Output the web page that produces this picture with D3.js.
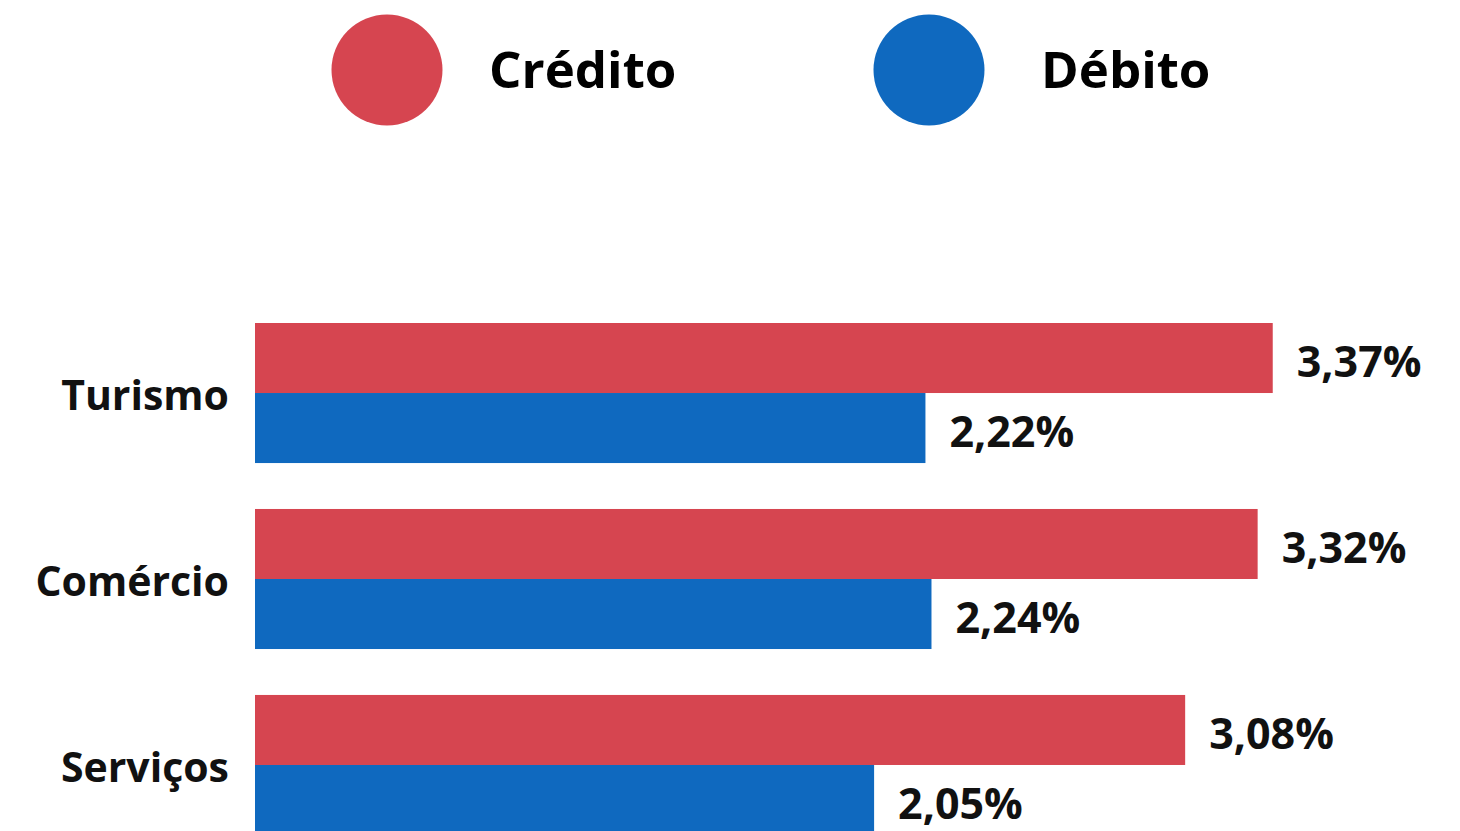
<!DOCTYPE html>
<html><head><meta charset="utf-8">
<script src="https://cdn.jsdelivr.net/npm/d3@7"></script>
<style>body{margin:0;background:#fff;overflow:hidden}</style>
</head><body>
<svg id="c" width="1460" height="831"></svg>
<script>
const categories = ["Turismo", "Comércio", "Serviços"];
const series = ["Crédito", "Débito"];
const credito = [3.37, 3.32, 3.08];
const debito = [2.22, 2.24, 2.05];
const colors = ["#d64550", "#0f69bf"];

const svg = d3.select("#c");
const x = d3.scaleLinear().domain([0, 1]).range([255, 557]);
const y0 = d3.scaleBand().domain(categories).range([323, 835]).paddingInner(0.247).paddingOuter(0);
const y1 = d3.scaleBand().domain(series).range([0, y0.bandwidth()]).padding(0);
const color = d3.scaleOrdinal().domain(series).range(colors);

const rows = categories.map((c, i) => ({cat: c, vals: [{s: series[0], v: credito[i]}, {s: series[1], v: debito[i]}]}));
const fmt = v => d3.format(".2f")(v).replace(".", ",") + "%";

const g = svg.selectAll("g.grp").data(rows).join("g").attr("class","grp")
  .attr("transform", d => `translate(0,${y0(d.cat)})`);
g.selectAll("rect").data(d => d.vals).join("rect")
  .attr("x", x(0)).attr("y", d => y1(d.s)).attr("height", y1.bandwidth())
  .attr("width", d => x(d.v) - x(0)).attr("fill", d => color(d.s));
g.selectAll("text.val").data(d => d.vals).join("text").attr("class","val")
  .attr("x", d => x(d.v) + 24).attr("y", d => y1(d.s) + y1.bandwidth()/2 + 19)
  .attr("font-family", "Open Sans, sans-serif").attr("font-weight", 700)
  .attr("font-size", 43).attr("fill", "#111").text(d => fmt(d.v));

const yAxis = d3.axisLeft(y0).tickSize(0).tickPadding(26);
const ax = svg.append("g").attr("transform", `translate(${x(0)},0)`).call(yAxis);
ax.select(".domain").remove();
ax.selectAll("text").attr("font-family", "Open Sans, sans-serif").attr("font-weight", 700)
  .attr("font-size", 41).attr("fill", "#111").attr("dy", "0.42em");

// legend
const lx = [387, 929];
const tx = [102, 112];
const lg = svg.selectAll("g.leg").data(series).join("g").attr("class","leg")
  .attr("transform", (d,i) => `translate(${lx[i]},70)`);
lg.append("circle").attr("r", 55.5).attr("fill", d => color(d));
lg.append("text").attr("x", (d,i) => tx[i]).attr("y", 18)
  .attr("font-family", "Open Sans, sans-serif").attr("font-weight", 700)
  .attr("font-size", 51).attr("fill", "#000").text(d => d);
</script>
</body></html>
